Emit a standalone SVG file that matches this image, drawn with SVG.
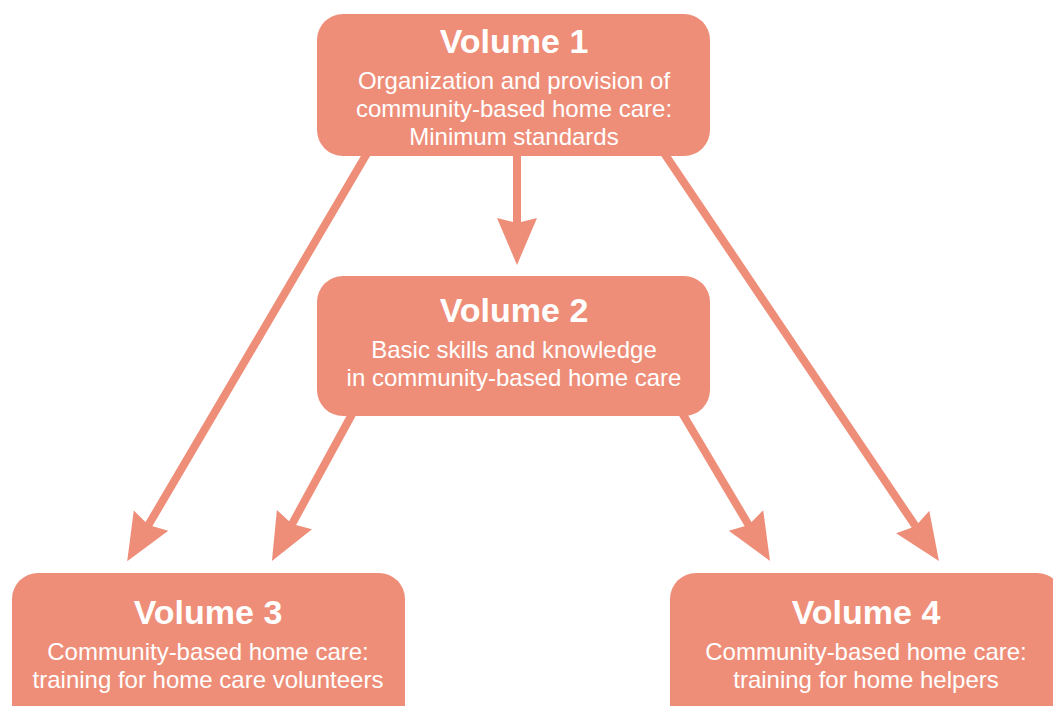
<svg xmlns="http://www.w3.org/2000/svg" width="1053" height="706" viewBox="0 0 1053 706">
  <style>
    .box { fill: #EE8E79; }
    .link { stroke: #EE8E79; stroke-width: 8; fill: none; marker-end: url(#head); }
    .title { font-family: "Liberation Sans", Arial, sans-serif; font-weight: bold; font-size: 34px; fill: #ffffff; text-anchor: middle; }
    .sub { font-family: "Liberation Sans", Arial, sans-serif; font-size: 24px; fill: #ffffff; text-anchor: middle; }
  </style>
  <defs>
    <!-- arrowhead: tip sits 30px beyond the line end -->
    <marker id="head" markerUnits="userSpaceOnUse" viewBox="0 -21 48 42" markerWidth="48" markerHeight="42" refX="17" refY="0" orient="auto">
      <path d="M0,-20 L47,0 L0,20 L5,0 Z" fill="#EE8E79"/>
    </marker>
  </defs>
  <rect width="1053" height="706" fill="#ffffff"/>

  <g id="connectors">
    <!-- Volume 1 -> Volume 2 -->
    <path class="link" d="M517,150 L517,235"/>
    <!-- Volume 1 -> Volume 3 -->
    <path class="link" d="M369,150 L142.4,535.3"/>
    <!-- Volume 2 -> Volume 3 -->
    <path class="link" d="M356.5,406 L286.3,534.6"/>
    <!-- Volume 2 -> Volume 4 -->
    <path class="link" d="M677.9,406 L754.7,535.2"/>
    <!-- Volume 1 -> Volume 4 -->
    <path class="link" d="M662,150 L922.2,536.1"/>
  </g>

  <g id="volume1">
    <rect class="box" x="317" y="14" width="393" height="142" rx="26"/>
    <text class="title" x="514" y="53">Volume 1</text>
    <text class="sub" x="514" y="89">Organization and provision of</text>
    <text class="sub" x="514" y="117">community-based home care:</text>
    <text class="sub" x="514" y="145">Minimum standards</text>
  </g>

  <g id="volume2">
    <rect class="box" x="317" y="276" width="393" height="140" rx="26"/>
    <text class="title" x="514" y="322">Volume 2</text>
    <text class="sub" x="514" y="358">Basic skills and knowledge</text>
    <text class="sub" x="514" y="386">in community-based home care</text>
  </g>

  <g id="volume3">
    <rect class="box" x="12" y="573" width="393" height="160" rx="26"/>
    <text class="title" x="208" y="624">Volume 3</text>
    <text class="sub" x="208" y="660">Community-based home care:</text>
    <text class="sub" x="208" y="688">training for home care volunteers</text>
  </g>

  <g id="volume4">
    <rect class="box" x="670" y="573" width="393" height="160" rx="26"/>
    <text class="title" x="866" y="624">Volume 4</text>
    <text class="sub" x="866" y="660">Community-based home care:</text>
    <text class="sub" x="866" y="688">training for home helpers</text>
  </g>
</svg>
